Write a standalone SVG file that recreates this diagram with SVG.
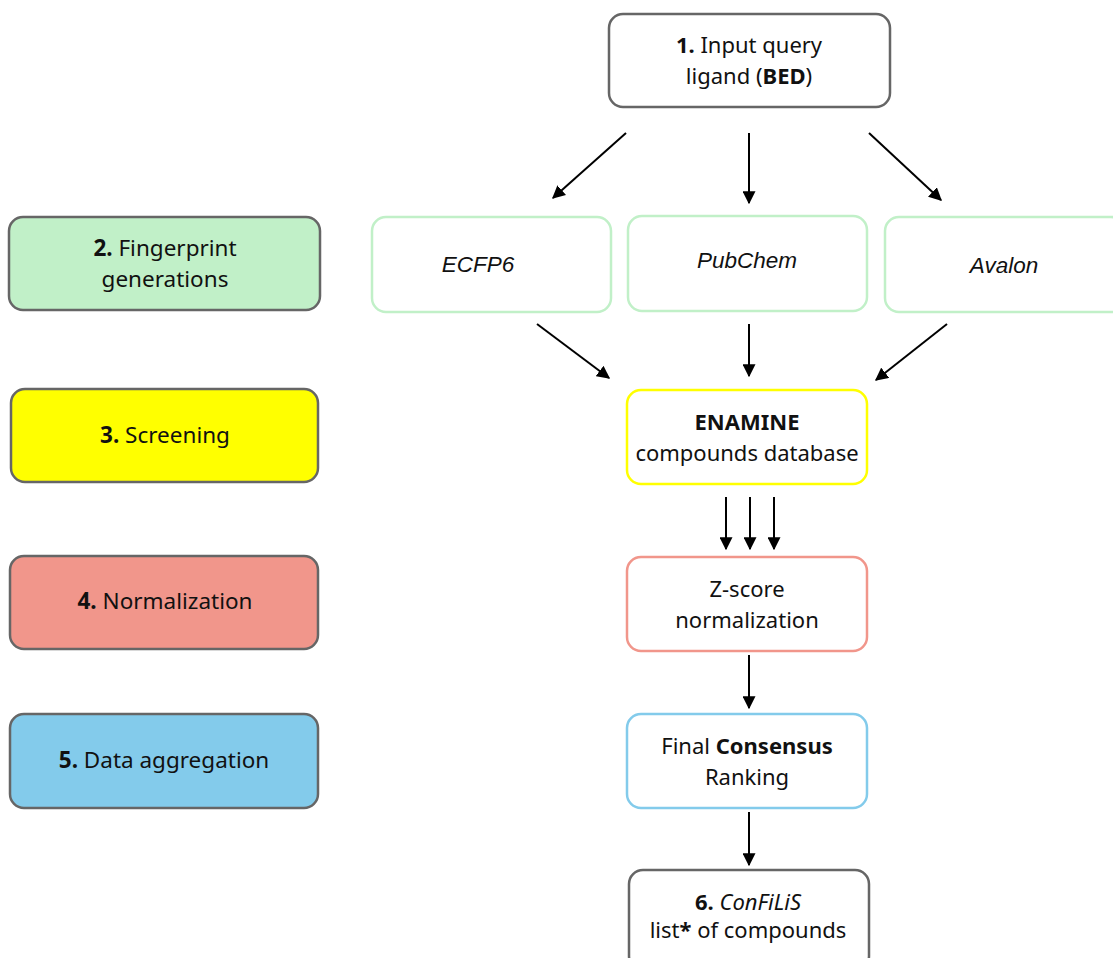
<svg xmlns="http://www.w3.org/2000/svg" width="1113" height="958" viewBox="0 0 1113 958">
<style>
.t{font-family:"Noto Sans","Open Sans",sans-serif;font-size:22px;fill:#111;text-anchor:middle}
.l{font-size:22.5px}
.i{font-family:"Liberation Sans",Arial,sans-serif;font-style:italic;font-size:22.5px;fill:#111;text-anchor:middle}
.b{font-weight:bold}
.it{font-style:italic}
.gray{fill:#fff;stroke:#666;stroke-width:2.5}
.side{stroke:#666;stroke-width:2.5}
.c{stroke:#000;stroke-width:2;fill:none;marker-end:url(#ah)}
</style>
<defs>
<marker id="ah" viewBox="0 0 10 10" refX="9" refY="5" markerWidth="6.5" markerHeight="6.5" markerUnits="strokeWidth" orient="auto">
<path d="M0,0 L10,5 L0,10 z" fill="#000"/>
</marker>
</defs>
<rect width="1113" height="958" fill="#fff"/>
<g id="n1"><rect x="609" y="14" width="281" height="93" rx="14" class="gray"/>
<text class="t" x="749" y="53"><tspan class="b">1.</tspan> Input query</text>
<text class="t" x="749" y="84">ligand (<tspan class="b">BED</tspan>)</text></g>
<g id="s2"><rect x="9" y="217" width="311" height="93" rx="14" fill="#c1f0c8" class="side"/>
<text class="t l" x="165" y="256"><tspan class="b">2.</tspan> Fingerprint</text>
<text class="t l" x="165" y="287">generations</text></g>
<g id="s3"><rect x="11" y="389" width="307" height="93" rx="14" fill="#ffff00" class="side"/>
<text class="t l" x="165" y="443"><tspan class="b">3.</tspan> Screening</text></g>
<g id="s4"><rect x="10" y="556" width="308" height="93" rx="14" fill="#f1968b" class="side"/>
<text class="t l" x="165" y="609"><tspan class="b">4.</tspan> Normalization</text></g>
<g id="s5"><rect x="10" y="714" width="308" height="94" rx="14" fill="#83cbeb" class="side"/>
<text class="t l" x="164" y="768"><tspan class="b">5.</tspan> Data aggregation</text></g>
<g id="ecfp6"><rect x="372" y="217" width="239" height="95" rx="14" fill="#fff" stroke="#c1f0c8" stroke-width="2.5"/>
<text class="i" x="478" y="272">ECFP6</text></g>
<g id="pubchem"><rect x="628" y="216" width="239" height="95" rx="14" fill="#fff" stroke="#c1f0c8" stroke-width="2.5"/>
<text class="i" x="747" y="268">PubChem</text></g>
<g id="avalon"><rect x="885" y="217" width="240" height="95" rx="14" fill="#fff" stroke="#c1f0c8" stroke-width="2.5"/>
<text class="i" x="1004" y="273">Avalon</text></g>
<g id="enamine"><rect x="627" y="390" width="240" height="94" rx="14" fill="#fff" stroke="#ffff00" stroke-width="2.5"/>
<text class="t b" x="747" y="430">ENAMINE</text>
<text class="t" x="747" y="461">compounds database</text></g>
<g id="zscore"><rect x="627" y="557" width="240" height="94" rx="14" fill="#fff" stroke="#f1968b" stroke-width="2.5"/>
<text class="t" x="747" y="597">Z-score</text>
<text class="t" x="747" y="628">normalization</text></g>
<g id="consensus"><rect x="627" y="714" width="240" height="94" rx="14" fill="#fff" stroke="#83cbeb" stroke-width="2.5"/>
<text class="t" x="747" y="754">Final <tspan class="b">Consensus</tspan></text>
<text class="t" x="747" y="785">Ranking</text></g>
<g id="n6"><rect x="629" y="870" width="240" height="100" rx="14" class="gray"/>
<text class="t" x="748" y="910"><tspan class="b">6.</tspan> <tspan class="it">ConFiLiS</tspan></text>
<text class="t" x="748" y="938">list<tspan class="b">*</tspan> of compounds</text></g>
<g id="connectors">
<line class="c" x1="626" y1="133" x2="553" y2="198"/>
<line class="c" x1="749" y1="133" x2="749" y2="203"/>
<line class="c" x1="869" y1="133" x2="941" y2="200"/>
<line class="c" x1="537" y1="324" x2="609" y2="378"/>
<line class="c" x1="749" y1="324" x2="749" y2="376"/>
<line class="c" x1="947" y1="324" x2="876" y2="380"/>
<line class="c" x1="726" y1="497" x2="726" y2="549"/>
<line class="c" x1="750" y1="497" x2="750" y2="549"/>
<line class="c" x1="774" y1="497" x2="774" y2="549"/>
<line class="c" x1="749" y1="655" x2="749" y2="708"/>
<line class="c" x1="749" y1="812" x2="749" y2="865"/>
</g>
</svg>
